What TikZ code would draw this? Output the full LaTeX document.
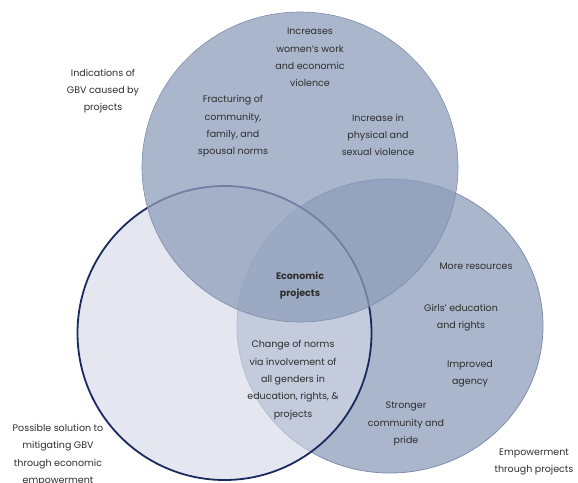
\documentclass[tikz,border=0pt]{standalone}
\usepackage{fontspec}
\setmainfont{Poppins}
\usetikzlibrary{positioning}
\definecolor{topfill}{RGB}{142,158,186}
\definecolor{topline}{RGB}{125,141,172}
\definecolor{rightfill}{RGB}{170,182,203}
\definecolor{rightline}{RGB}{125,141,175}
\definecolor{leftfill}{RGB}{211,216,231}
\definecolor{leftline}{RGB}{27,42,94}
\definecolor{txt}{RGB}{45,45,45}
\tikzset{lbl/.style={align=center,text=txt,inner sep=0pt,font=\fontsize{9.5}{17.3}\selectfont}}

\begin{document}
\begin{tikzpicture}[x=1pt,y=-1pt]
  \useasboundingbox (0,0) rectangle (578,482);
  % the three sets
  \draw[rightline,line width=0.8pt,fill=rightfill] (390,326) ellipse [x radius=153pt,y radius=147pt];
  \draw[leftline,line width=1.8pt,fill=leftfill,fill opacity=0.62] (224.5,333) ellipse [x radius=147pt,y radius=147pt];
  \draw[topline,line width=0.6pt,fill=topfill,fill opacity=0.75] (300,167) ellipse [x radius=158pt,y radius=155pt];
  % labels outside
  \node[lbl] (gbv) at (103,91) {Indications of\\GBV caused by\\projects};
  \node[lbl] (sol) at (58,455) {Possible solution to\\mitigating GBV\\through economic\\empowerment};
  \node[lbl] (emp) at (534,462) {Empowerment\\through projects};
  % top circle
  \node[lbl] (work) at (310,57.5) {Increases\\women's work\\and economic\\violence};
  \node[lbl] (frac) at (233,126.5) {Fracturing of\\community,\\family, and\\spousal norms};
  \node[lbl] (phys) at (378,135) {Increase in\\physical and\\sexual violence};
  % centre
  \node[lbl,font=\fontsize{9.5}{17.3}\selectfont\bfseries] (econ) at (300,285.5) {Economic\\projects};
  \node[lbl] (norms) at (293,380) {Change of norms\\via involvement of\\all genders in\\education, rights, \&\\projects};
  % right circle
  \node[lbl] (res) at (476,266) {More resources};
  \node[lbl] (girls) at (461,318) {Girls' education\\and rights};
  \node[lbl] (agency) at (470,374) {Improved\\agency};
  \node[lbl] (pride) at (406,424) {Stronger\\community and\\pride};
\end{tikzpicture}
\end{document}
